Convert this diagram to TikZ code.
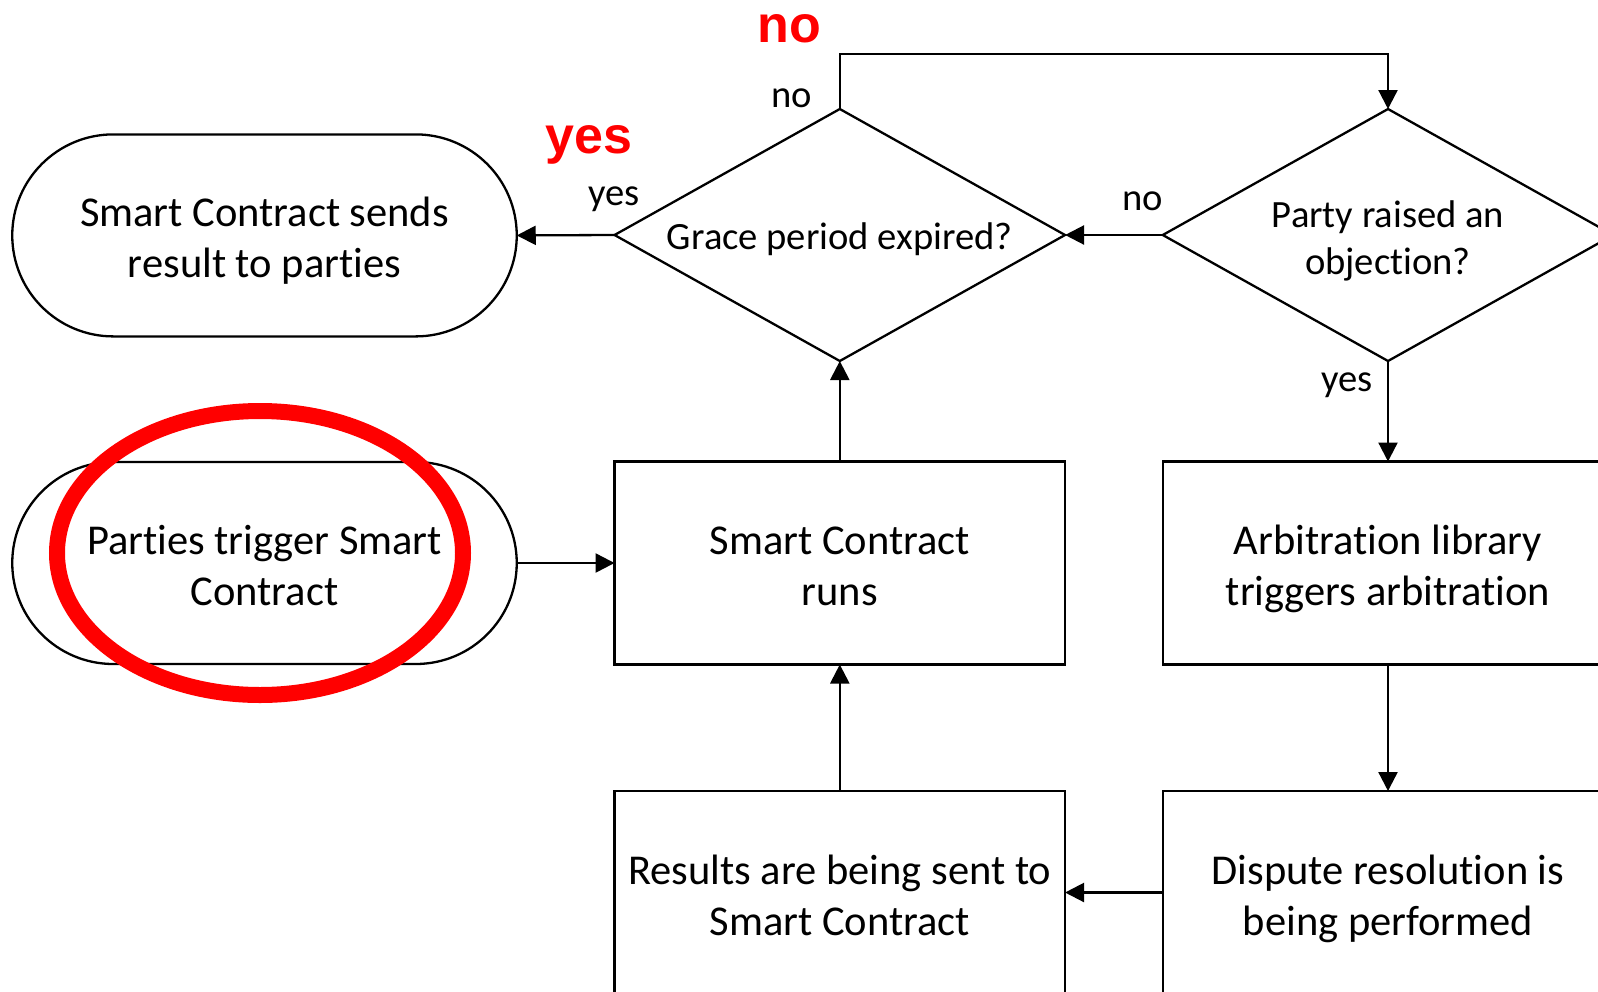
\documentclass[tikz,border=0pt]{standalone}
\usepackage{fontspec}
\setmainfont{Carlito}[Ligatures={NoCommon}]
\newfontfamily\arialfont{Liberation Sans}
\usetikzlibrary{shapes.geometric,shapes.misc,arrows.meta}
\newcommand\myBoxStrut{\rule{0pt}{46pt}}
\newcommand\myDiaStrut{\rule{0pt}{44pt}}
\newcommand\myOneStrut{\rule{0pt}{36pt}}
\begin{document}
\begin{tikzpicture}[x=1pt,y=-1pt,
  every node/.style={inner sep=0pt, outer sep=0pt},
  boxtext/.style={font=\fontsize{42.5}{51}\selectfont, align=center,
    execute at end node={\rule[-12pt]{0pt}{0pt}}},
  procbox/.style={draw, line width=2.3pt, rectangle, minimum width=450.5pt, minimum height=203pt, boxtext},
  termbox/.style={draw, line width=2.3pt, rounded rectangle, minimum width=504.5pt, minimum height=202pt, boxtext},
  decbox/.style={draw, line width=2.3pt, diamond, aspect=1.788, minimum width=450.5pt, minimum height=252pt,
    font=\fontsize{38.6}{47}\selectfont, align=center},
  lbl/.style={font=\fontsize{38.6}{47}\selectfont, anchor=base},
  redlbl/.style={font=\arialfont\bfseries\fontsize{52}{60}\selectfont, text=red, anchor=base},
  conn/.style={line width=2.3pt, -{Triangle[length=19pt,width=19pt]}}
]
\useasboundingbox (0,0) rectangle (1598,991);
\fill[white] (0,0) rectangle (1598,991);

\node[termbox] (t1) at (264.5,235.4) {\myBoxStrut Smart Contract sends\\result to parties};
\node[termbox] (t2) at (264.5,563) {\myBoxStrut Parties trigger Smart\\Contract};
\node[decbox] (d1) at (839.8,235) {\myOneStrut Grace period expired?};
\node[decbox, execute at end node={\rule[-12pt]{0pt}{0pt}}] (d2) at (1388,235) {\myDiaStrut Party raised an\\objection?};
\node[procbox] (runs) at (839.8,563) {\myBoxStrut Smart Contract\\runs};
\node[procbox] (arb) at (1388,563) {\myBoxStrut Arbitration library\\triggers arbitration};
\node[procbox] (res) at (839.8,892.5) {\myBoxStrut Results are being sent to\\Smart Contract};
\node[procbox] (disp) at (1388,892.5) {\myBoxStrut Dispute resolution is\\being performed};

\draw[conn] (d1.west) -- (t1.east);
\draw[conn] (d2.west) -- (d1.east);
\draw[conn] (d1.north) -- ++(0,-55) -| (d2.north);
\draw[conn] (d2.south) -- (arb.north);
\draw[conn] (arb.south) -- (disp.north);
\draw[conn] (disp.west) -- (res.east);
\draw[conn] (res.north) -- (runs.south);
\draw[conn] (runs.north) -- (d1.south);
\draw[conn] (t2.east) -- (runs.west);

\node[lbl] (lno1) at (792,107) {no};
\node[lbl] (lyes1) at (614,205) {yes};
\node[lbl] (lno2) at (1143,210) {no};
\node[lbl] (lyes2) at (1347,391) {yes};

\node[redlbl] (rno) at (789,42) {no};
\node[redlbl] (ryes) at (589,153) {yes};

\draw[red, line width=16pt] (260,553) ellipse [x radius=203, y radius=142];
\end{tikzpicture}
\end{document}
